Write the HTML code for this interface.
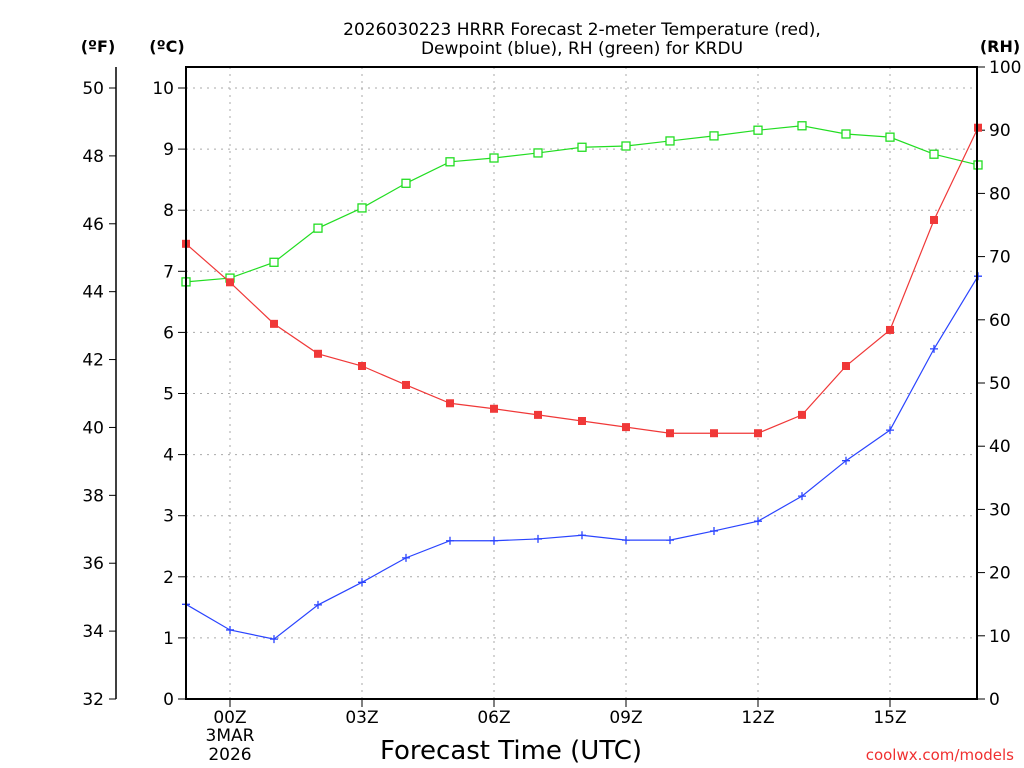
<!DOCTYPE html>
<html><head><meta charset="utf-8"><style>
body{margin:0;background:#fff}
svg{display:block;font-family:"DejaVu Sans","Liberation Sans",sans-serif}
</style></head><body>
<svg id="c" width="1024" height="768" viewBox="0 0 1024 768" xmlns="http://www.w3.org/2000/svg">
<text x="582" y="35" text-anchor="middle" font-size="17">2026030223 HRRR Forecast 2-meter Temperature (red),</text>
<text x="582" y="54" text-anchor="middle" font-size="17">Dewpoint (blue), RH (green) for KRDU</text>
<text x="98" y="52" text-anchor="middle" font-size="16" font-weight="bold">(ºF)</text>
<text x="167" y="52" text-anchor="middle" font-size="16" font-weight="bold">(ºC)</text>
<text x="1000" y="52" text-anchor="middle" font-size="16" font-weight="bold">(RH)</text>
<text x="511" y="759" text-anchor="middle" font-size="26">Forecast Time (UTC)</text>
<text x="1014" y="760" text-anchor="end" font-size="15" fill="#f03030">coolwx.com/models</text>
<g id="g"></g>
</svg>
<script>
const hours=[-1,0,1,2,3,4,5,6,7,8,9,10,11,12,13,14,15,16,17];
const tempC=[7.45,6.82,6.14,5.65,5.45,5.14,4.84,4.75,4.65,4.55,4.45,4.35,4.35,4.35,4.65,5.45,6.04,7.84,9.35];
const dewC=[1.55,1.13,0.98,1.54,1.91,2.31,2.59,2.59,2.62,2.68,2.60,2.60,2.75,2.91,3.32,3.90,4.40,5.73,6.92];
const rh=[66.0,66.6,69.1,74.5,77.7,81.6,85.0,85.6,86.4,87.3,87.5,88.3,89.1,90.0,90.7,89.4,88.9,86.2,84.5];
const cTicks=[0,1,2,3,4,5,6,7,8,9,10];
const fTicks=[32,34,36,38,40,42,44,46,48,50];
const rhTicks=[0,10,20,30,40,50,60,70,80,90,100];
const xTicks=[0,3,6,9,12,15];
const xLabels=["00Z","03Z","06Z","09Z","12Z","15Z"];

const L=186,R=977,T=67,B=699;
const x=h=>230+(h)*44;
const yC=c=>B-c*61.1;
const yF=f=>yC((f-32)*5/9);
const yR=r=>B-r*(B-T)/100;
const NS="http://www.w3.org/2000/svg";
const g=document.getElementById('g');
function el(tag,attrs,parent){const e=document.createElementNS(NS,tag);for(const k in attrs)e.setAttribute(k,attrs[k]);(parent||g).appendChild(e);return e;}

// grid
cTicks.forEach(c=>{if(c>0){const l=el('line',{x1:L,x2:R,y1:yC(c),y2:yC(c),stroke:'#aaa','stroke-dasharray':'2,5'});

}});
xTicks.forEach(h=>{const l=el('line',{x1:x(h),x2:x(h),y1:T,y2:B,stroke:'#aaa','stroke-dasharray':'2,5'});

});
// C axis
cTicks.forEach(c=>{el('line',{x1:L-8,x2:L,y1:yC(c),y2:yC(c),stroke:'#000'});
const t=el('text',{x:L-12,y:yC(c)+6,'text-anchor':'end','font-size':17});t.textContent=c;

});
// F axis
el('line',{x1:116,x2:116,y1:67,y2:B,stroke:'#000','stroke-width':1.5});
fTicks.forEach(f=>{el('line',{x1:109,x2:116,y1:yF(f),y2:yF(f),stroke:'#000'});
const t=el('text',{x:104,y:yF(f)+6,'text-anchor':'end','font-size':17});t.textContent=f;

});
// RH axis
rhTicks.forEach(r=>{el('line',{x1:R,x2:R+8,y1:yR(r),y2:yR(r),stroke:'#000'});
const t=el('text',{x:R+12,y:yR(r)+6,'text-anchor':'start','font-size':17});t.textContent=r;

});
// x ticks
xTicks.forEach((h,i)=>{el('line',{x1:x(h),x2:x(h),y1:B,y2:B+8,stroke:'#000'});
const t=el('text',{x:x(h),y:B+24,'text-anchor':'middle','font-size':17});t.textContent=xLabels[i];

});
[["3MAR",741],["2026",760]].forEach(([s,yy])=>{const t=el('text',{x:230,y:yy,'text-anchor':'middle','font-size':17});t.textContent=s;

});
// series
function series(vals,yf,color,name,marker){
const pts=hours.map((h,i)=>x(h)+','+yf(vals[i])).join(' ');
const p=el('polyline',{points:pts,fill:'none',stroke:color,'stroke-width':1.2});


hours.forEach((h,i)=>{const cx=x(h),cy=yf(vals[i]);let m;
if(marker==='sq'){m=el('rect',{x:cx-4,y:cy-4,width:8,height:8,fill:color});}
else if(marker==='osq'){m=el('rect',{x:cx-4,y:cy-4,width:8,height:8,fill:'#fff',stroke:color,'stroke-width':1.3});}
else{m=el('path',{d:`M${cx-4},${cy}H${cx+4}M${cx},${cy-4}V${cy+4}`,stroke:color,'stroke-width':1.3});}

});
}
const clip=el('clipPath',{id:'cp'});el('rect',{x:L,y:T,width:R-L,height:B-T},clip);
series(rh,yR,'#22dd22','rh','osq');
series(tempC,yC,'#f03838','temperature','sq');
series(dewC,yC,'#2a44ff','dewpoint','plus');
// border
const b=el('rect',{x:L,y:T,width:R-L,height:B-T,fill:'none',stroke:'#000','stroke-width':2});


</script>
</body></html>
